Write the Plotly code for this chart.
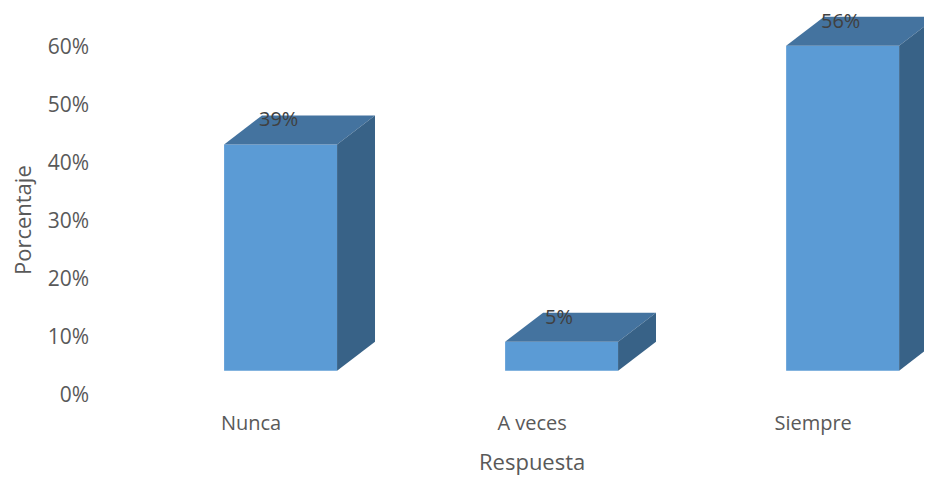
import plotly.graph_objects as go

categories = ["Nunca", "A veces", "Siempre"]
values = [0.39, 0.05, 0.56]
labels = ["39%", "5%", "56%"]
y_tick_vals = [0, 0.1, 0.2, 0.3, 0.4, 0.5, 0.6]

# style constants (3D emulation)
FRONT = "#5B9BD5"
TOP = "#44739F"
SIDE = "#386287"
TXT = "#595959"
FONT = "Open Sans"
base = 0.042      # floor offset of front faces
center_off = 0.105
bar_w = 0.402
dx = 0.135        # depth in x (data units)
dy = 0.050        # depth in y (data units)

fig = go.Figure()

xs = [i + center_off for i in range(len(categories))]
fig.add_trace(go.Bar(
    x=xs, y=values, base=[base] * len(values), width=bar_w,
    marker=dict(color=FRONT, line=dict(width=0)),
    hoverinfo="skip", showlegend=False,
))

for xc, v in zip(xs, values):
    xl, xr = xc - bar_w / 2, xc + bar_w / 2
    yb, yt = base, base + v
    # top face
    fig.add_trace(go.Scatter(
        x=[xl, xr, xr + dx, xl + dx, xl],
        y=[yt, yt, yt + dy, yt + dy, yt],
        fill="toself", fillcolor=TOP, mode="lines",
        line=dict(width=0, color=TOP), hoverinfo="skip", showlegend=False,
    ))
    # side face
    fig.add_trace(go.Scatter(
        x=[xr, xr + dx, xr + dx, xr, xr],
        y=[yb, yb + dy, yt + dy, yt, yb],
        fill="toself", fillcolor=SIDE, mode="lines",
        line=dict(width=0, color=SIDE), hoverinfo="skip", showlegend=False,
    ))

annotations = []
for xc, v, lab in zip(xs, values, labels):
    annotations.append(dict(
        x=xc - 0.009, y=base + v + dy * 0.88, xref="x", yref="y",
        text=lab, showarrow=False, font=dict(family=FONT, size=20, color="#404040"),
        xanchor="center", yanchor="middle",
    ))

annotations.append(dict(
    x=-0.107, y=0.4545, xref="paper", yref="paper", text="Porcentaje",
    textangle=-90, showarrow=False, font=dict(family=FONT, size=22, color=TXT),
    xanchor="center", yanchor="middle",
))
annotations.append(dict(
    x=0.513, y=-0.1714, xref="paper", yref="paper", text="Respuesta",
    showarrow=False, font=dict(family=FONT, size=22, color=TXT),
    xanchor="center", yanchor="middle",
))

fig.update_layout(
    width=924, height=469,
    margin=dict(l=102, r=0, t=2, b=82),
    paper_bgcolor="white", plot_bgcolor="white",
    showlegend=False,
    annotations=annotations,
    xaxis=dict(
        range=[-0.502, 2.423], tickvals=[0, 1, 2], ticktext=categories,
        showgrid=False, zeroline=False, showline=False, ticks="",
        tickfont=dict(family=FONT, size=20, color=TXT),
        ticklabelstandoff=14, fixedrange=True,
    ),
    yaxis=dict(
        range=[0, 0.6638], tickvals=y_tick_vals, tickformat=".0%",
        showgrid=False, zeroline=False, showline=False, ticks="",
        tickfont=dict(family=FONT, size=21, color=TXT),
        ticklabelstandoff=20, fixedrange=True,
    ),
)

fig.write_html("out.html")
